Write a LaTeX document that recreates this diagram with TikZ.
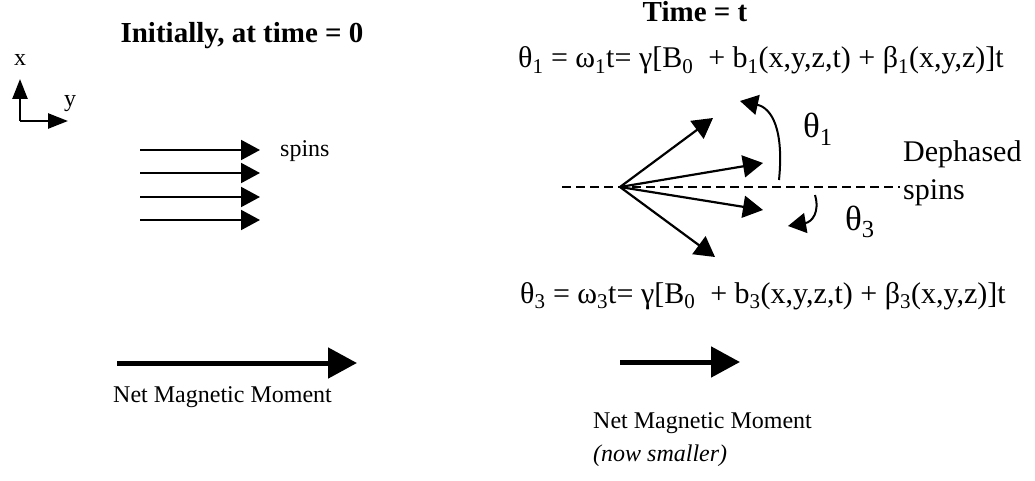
\documentclass[tikz,border=0pt]{standalone}
\usepackage{fontspec}
\setmainfont{Liberation Serif}
\usetikzlibrary{arrows.meta}
\begin{document}
\begin{tikzpicture}[x=1pt,y=-1pt,
  spinarrow/.style={line width=2pt,-{Triangle[length=19pt,width=20pt]}},
  bigarrow/.style={line width=5pt,-{Triangle[length=29pt,width=30pt]}},
  axisarrow/.style={line width=2.5pt,-{Triangle[length=20pt,width=15pt]}},
  dephase/.style={line width=2.2pt,-{Triangle[length=20pt,width=22pt]}},
  turn/.style={line width=2pt,-{Triangle[length=18pt,width=20pt]}},
  lbl/.style={font=\fontsize{24}{28}\selectfont,inner sep=0pt},
  lblb/.style={font=\fontsize{30}{34}\selectfont,inner sep=0pt},
  eq/.style={font=\fontsize{30}{34}\selectfont,inner sep=0pt},
  ttl/.style={font=\fontsize{29}{33}\selectfont\bfseries,inner sep=0pt},
  ang/.style={font=\fontsize{35}{40}\selectfont,inner sep=0pt}]
\useasboundingbox (0,0) rectangle (1035,481);
% titles
\node[ttl,anchor=base] (t0) at (242,43) {Initially, at time = 0};
\node[ttl,anchor=base] (tt) at (695,22) {Time = t};
\node[eq,anchor=base west] (eq1) at (518,68) {θ\textsubscript{1} = ω\textsubscript{1}t= γ[B\textsubscript{0}\ \ + b\textsubscript{1}(x,y,z,t) + β\textsubscript{1}(x,y,z)]t};
\node[eq,anchor=base west] (eq3) at (520,303) {θ\textsubscript{3} = ω\textsubscript{3}t= γ[B\textsubscript{0}\ \ + b\textsubscript{3}(x,y,z,t) + β\textsubscript{3}(x,y,z)]t};
% axes
\coordinate (ax0) at (20,121);
\coordinate (axx) at (20,79);
\coordinate (axy) at (68,121);
\draw[axisarrow] (ax0) -- (axx);
\draw[axisarrow] (ax0) -- (axy);
\node[lbl] (lx) at (20,60) {x};
\node[lbl] (ly) at (70,104) {y};
% initial spins
\foreach \i/\yy in {1/150,2/173,3/197,4/220}{
  \coordinate (s\i a) at (140,\yy);
  \coordinate (s\i b) at (260,\yy);
  \draw[spinarrow] (s\i a) -- (s\i b);
}
\node[lbl,anchor=base west] (spl) at (280,157) {spins};
% dephased
\coordinate (dl) at (562,187);
\coordinate (dr) at (900,187);
\draw[line width=1.5pt,dash pattern=on 9pt off 5pt] (dl) -- (dr);
\coordinate (o) at (620,187);
\coordinate (pa) at (713,118);
\coordinate (pb) at (763,163);
\coordinate (pc) at (763,210);
\coordinate (pd) at (715,257);
\foreach \p in {pa,pb,pc,pd}{\draw[dephase] (o) -- (\p);}
\coordinate (r1a) at (779,180);
\coordinate (r1b) at (740,101);
\draw[turn] (r1a) .. controls (784,130) and (772,108) .. (r1b);
\coordinate (r3a) at (815,195);
\coordinate (r3b) at (788,226);
\draw[turn] (r3a) .. controls (820,212) and (812,222) .. (r3b);
\node[ang,anchor=base west] (th1) at (803,138) {θ\textsubscript{1}};
\node[ang,anchor=base west] (th3) at (845,230) {θ\textsubscript{3}};
\node[lblb,anchor=base west] (dp) at (903,162) {Dephased};
\node[lblb,anchor=base west] (dps) at (903,200) {spins};
% net moments
\coordinate (n1a) at (117,363);
\coordinate (n1b) at (357,363);
\draw[bigarrow] (n1a) -- (n1b);
\coordinate (n2a) at (620,362);
\coordinate (n2b) at (740,362);
\draw[bigarrow] (n2a) -- (n2b);
\node[lbl,anchor=base west] (nm1) at (113,402) {Net Magnetic Moment};
\node[lbl,anchor=base west] (nm2) at (593,428) {Net Magnetic Moment};
\node[lbl,anchor=base west,font=\fontsize{24}{28}\selectfont\itshape] (ns) at (593,461) {(now smaller)};
\end{tikzpicture}
\end{document}
